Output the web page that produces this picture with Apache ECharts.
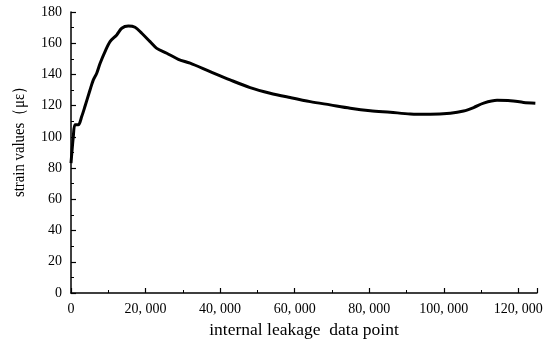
<!DOCTYPE html>
<html><head><meta charset="utf-8">
<script src="https://cdn.jsdelivr.net/npm/echarts@6/dist/echarts.min.js"></script>
<style>html,body{margin:0;padding:0;background:#fff}#c{width:550px;height:346px}</style>
</head><body><div id="c"></div>
<script>
const xValues = [0, 620, 1070, 1960, 2870, 3760, 5100, 5990, 6900, 7790, 9130, 10470, 12270, 13610, 15380, 17180, 18980, 21210, 23010, 25690, 28800, 31950, 37320, 42680, 48050, 53420, 58790, 64160, 69530, 74900, 80270, 85640, 91010, 96380, 101740, 105320, 108000, 110690, 114280, 117850, 121420, 124560];
const strainValues = [83.2, 100.2, 107.7, 107.7, 113, 119.6, 130, 136.5, 140.8, 147, 154.6, 161, 165.3, 169.6, 171, 170.2, 166.4, 161, 156.7, 153.6, 149.7, 147.2, 141.8, 136.5, 131.6, 128, 125.2, 122.6, 120.5, 118.4, 116.8, 115.8, 114.7, 114.5, 115.2, 116.6, 118.8, 121.6, 123.4, 123.2, 122.1, 121.6];
const xTitle = 'internal leakage  data point';
const yTitle = 'strain values（με）';

const font = '"Liberation Serif", "Times New Roman", serif';
const data = xValues.map((x, i) => [x, strainValues[i]]);
const fmt = v => v === 0 ? '0' : String(v).replace(/\B(?=(\d{3})+(?!\d))/g, ', ');

const chart = echarts.init(document.getElementById('c'), null, {renderer: 'canvas'});
chart.setOption({
  animation: false,
  grid: {left: 71, right: 13, top: 12, bottom: 53, containLabel: false},
  graphic: [{
    type: 'text', x: 20, y: 138, rotation: Math.PI / 2, scaleX: 0.87,
    style: {text: yTitle, fontFamily: font, fontSize: 17, fill: '#000',
      align: 'center', verticalAlign: 'middle'}
  }],
  xAxis: {
    type: 'value', min: 0, max: 125000, interval: 20000,
    name: xTitle, nameLocation: 'middle', nameGap: 28,
    nameTextStyle: {fontFamily: font, fontSize: 17.5, color: '#000'},
    axisLine: {show: true, onZero: false, lineStyle: {color: '#000', width: 1.5}},
    axisTick: {show: true, inside: true, length: 5, lineStyle: {color: '#000', width: 1.2}},
    minorTick: {show: true, splitNumber: 2, length: 3, lineStyle: {color: '#000', width: 1}},
    splitLine: {show: false},
    axisLabel: {fontFamily: font, fontSize: 14, color: '#000', margin: 9, formatter: fmt,
      showMaxLabel: false}
  },
  yAxis: {
    type: 'value', min: 0, max: 180, interval: 20,
    axisLine: {show: true, lineStyle: {color: '#000', width: 1.5}},
    axisTick: {show: true, inside: true, length: 5, lineStyle: {color: '#000', width: 1.2}},
    minorTick: {show: true, splitNumber: 2, length: 3, lineStyle: {color: '#000', width: 1}},
    splitLine: {show: false},
    axisLabel: {fontFamily: font, fontSize: 14, color: '#000', margin: 9}
  },
  series: [{
    type: 'line', data: data, showSymbol: false, smooth: 0.3,
    lineStyle: {color: '#000', width: 3},
    z: 3
  }]
});
</script></body></html>
